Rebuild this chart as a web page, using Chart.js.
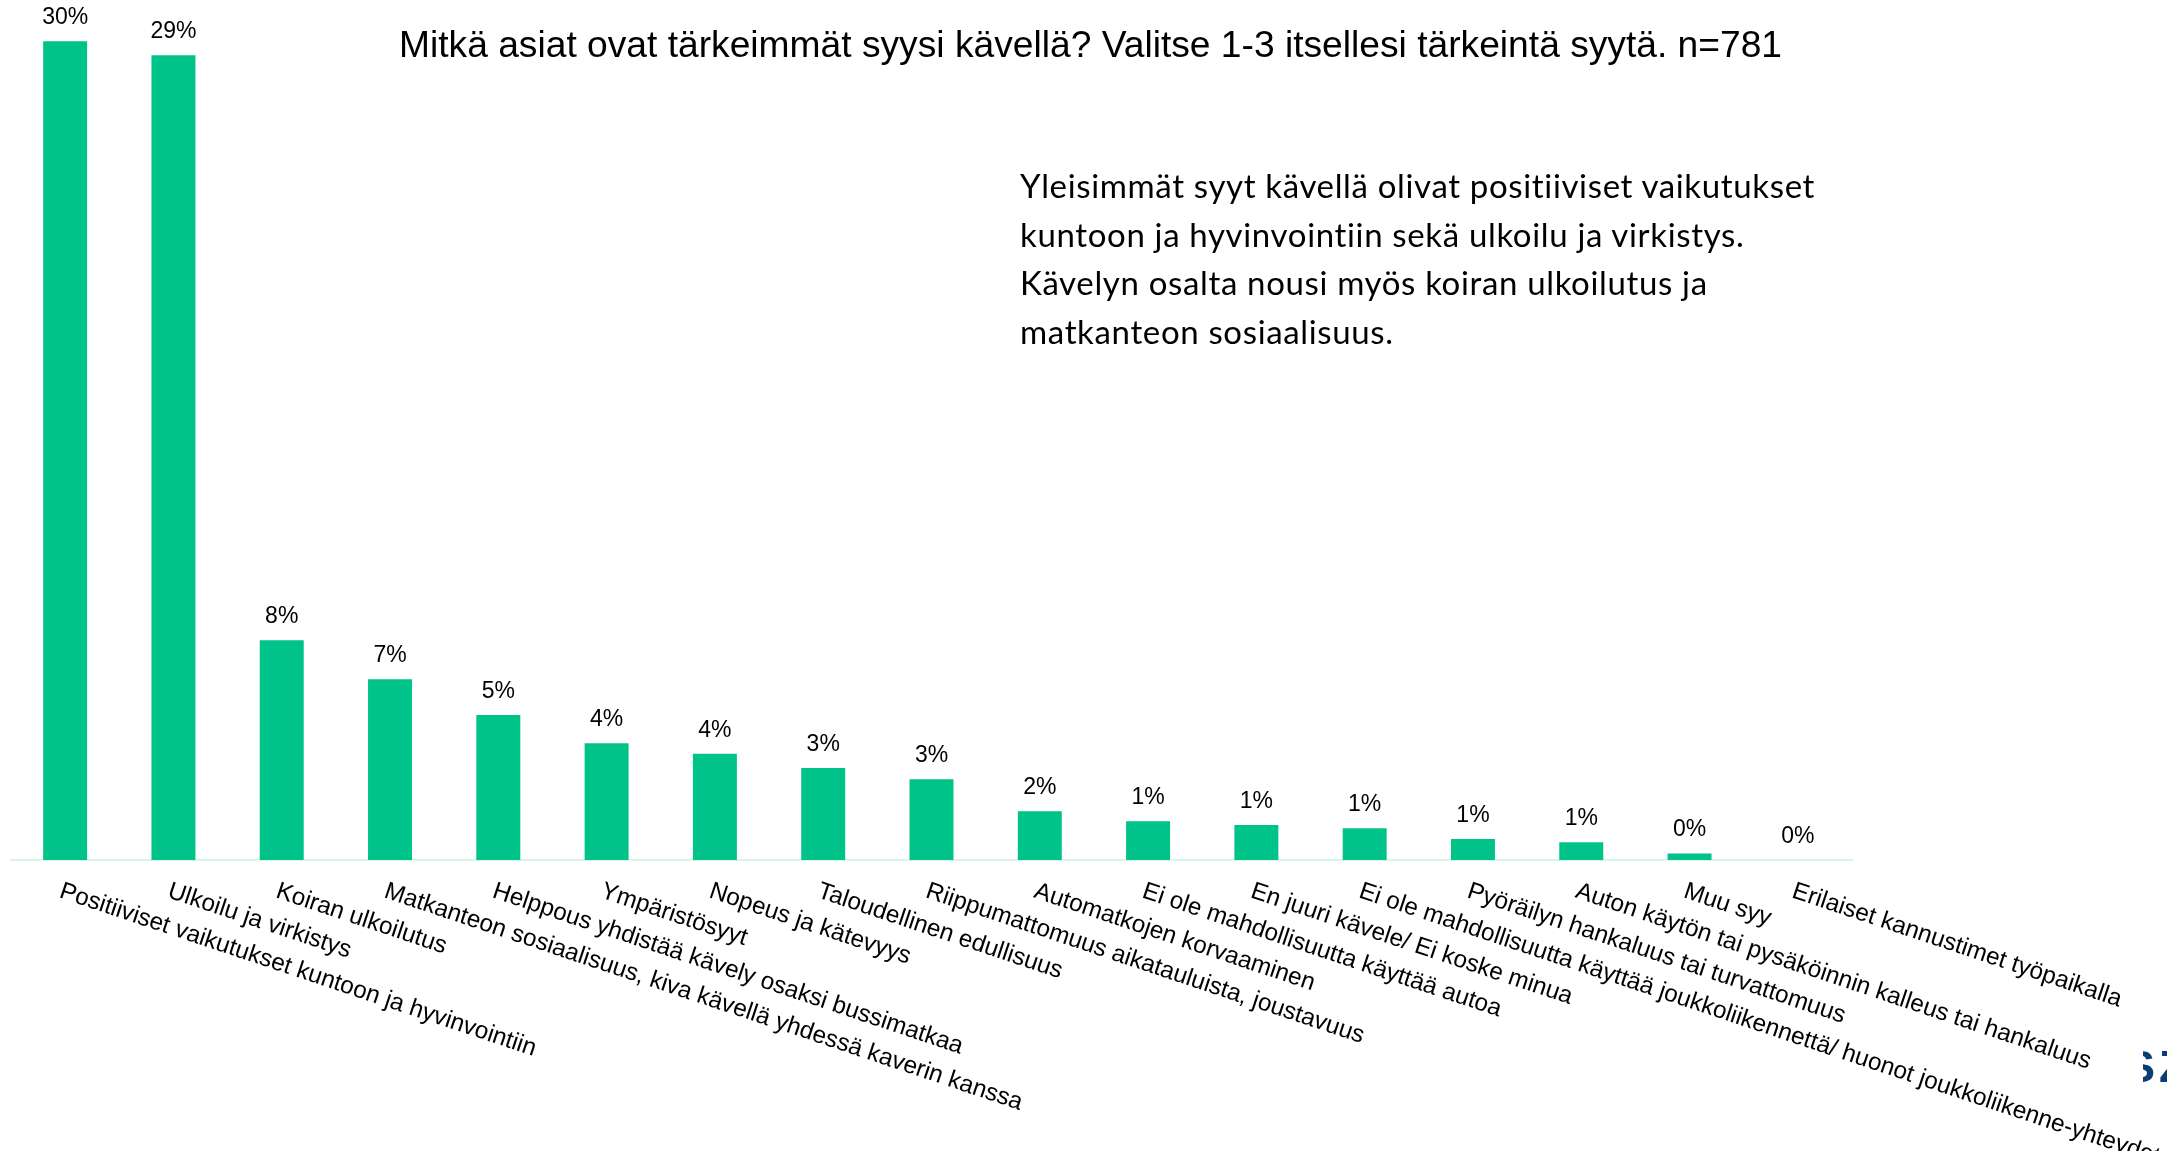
<!DOCTYPE html>
<html>
<head>
<meta charset="utf-8">
<script src="https://cdn.jsdelivr.net/npm/chart.js@4.4.1/dist/chart.umd.min.js"></script>
<style>
    body { margin: 0; background: #fff; }
    #wrap { position: relative; width: 2167px; height: 1151px; overflow: hidden; }
    #title {
        position: absolute; left: 399px; top: 26px; white-space: nowrap;
        font-family: "Liberation Sans", Arial, sans-serif; font-size: 37.2px; line-height: 37px; color: #000;
    }
    #note {
        position: absolute; left: 1020px; top: 161px; white-space: nowrap; letter-spacing: 0.65px;
        font-family: Lato, sans-serif; font-size: 33px; line-height: 48.7px; color: #000;
    }
    #logo { position: absolute; left: 2143px; top: 1040px; width: 24px; height: 50px; overflow: hidden; }
    #logo span {
        position: absolute; left: -18px; top: 4px; white-space: nowrap; letter-spacing: 4px;
        font-family: "Liberation Sans", Arial, sans-serif; font-weight: bold; font-size: 45px; line-height: 45px; color: #0b3d73;
    }
</style>
</head>
<body>
<div id="wrap">
    <canvas id="myChart" width="2167" height="1151"></canvas>
    <div id="title">Mitkä asiat ovat tärkeimmät syysi kävellä? Valitse 1-3 itsellesi tärkeintä syytä. n=781</div>
    <div id="note">Yleisimmät syyt kävellä olivat positiiviset vaikutukset<br>kuntoon ja hyvinvointiin sekä ulkoilu ja virkistys.<br>Kävelyn osalta nousi myös koiran ulkoilutus ja<br>matkanteon sosiaalisuus.</div>
    <div id="logo"><span>SZ</span></div>
</div>
<script>
    "use strict";

    const categories = [
        'Positiiviset vaikutukset kuntoon ja hyvinvointiin',
        'Ulkoilu ja virkistys',
        'Koiran ulkoilutus',
        'Matkanteon sosiaalisuus, kiva kävellä yhdessä kaverin kanssa',
        'Helppous yhdistää kävely osaksi bussimatkaa',
        'Ympäristösyyt',
        'Nopeus ja kätevyys',
        'Taloudellinen edullisuus',
        'Riippumattomuus aikatauluista, joustavuus',
        'Automatkojen korvaaminen',
        'Ei ole mahdollisuutta käyttää autoa',
        'En juuri kävele/ Ei koske minua',
        'Ei ole mahdollisuutta käyttää joukkoliikennettä/ huonot joukkoliikenne-yhteydet',
        'Pyöräilyn hankaluus tai turvattomuus',
        'Auton käytön tai pysäköinnin kalleus tai hankaluus',
        'Muu syy',
        'Erilaiset kannustimet työpaikalla'
    ];

    // share of respondents, %
    const shares = [30.0, 29.49, 8.05, 6.62, 5.31, 4.28, 3.89, 3.37, 2.96, 1.79, 1.42, 1.28, 1.16, 0.77, 0.65, 0.24, 0];

    const labelPlugin = {
        id: 'labelPlugin',
        afterDatasetsDraw(chart) {
            const ctx = chart.ctx;
            const meta = chart.getDatasetMeta(0);
            const xScale = chart.scales.x;
            const bottom = chart.chartArea.bottom;

            ctx.save();
            ctx.fillStyle = '#000';

            // value labels above bars
            ctx.font = '23px "Liberation Sans", Arial, sans-serif';
            ctx.textAlign = 'center';
            ctx.textBaseline = 'alphabetic';
            meta.data.forEach((bar, i) => {
                ctx.fillText(Math.round(shares[i]) + '%', bar.x, bar.y - 17);
            });

            // slanted category labels
            ctx.font = '24.3px "Liberation Sans", Arial, sans-serif';
            ctx.textAlign = 'left';
            categories.forEach((c, i) => {
                const x = xScale.getPixelForValue(i);
                ctx.save();
                ctx.translate(x - 7, bottom + 37);
                ctx.rotate(18.5 * Math.PI / 180);
                ctx.fillText(c, 0, 0);
                ctx.restore();
            });
            ctx.restore();
        }
    };

    let ctx = document.getElementById('myChart').getContext('2d');
    let chart = new Chart(ctx, {
        type: 'bar',
        data: {
            labels: categories,
            datasets: [
                {
                    data: shares,
                    backgroundColor: '#00C389',
                    borderWidth: 0,
                    barPercentage: 0.406,
                    categoryPercentage: 1
                }
            ]
        },
        options: {
            responsive: false,
            devicePixelRatio: 1,
            animation: false,
            layout: {
                padding: { left: 11, right: 315, top: 14, bottom: 283 }
            },
            plugins: {
                legend: { display: false },
                tooltip: { enabled: false }
            },
            scales: {
                x: {
                    grid: { display: false },
                    ticks: { display: false },
                    border: { display: true, color: '#d4f7ea', width: 2 }
                },
                y: {
                    display: false,
                    min: 0,
                    max: 31
                }
            }
        },
        plugins: [labelPlugin]
    });
</script>
</body>
</html>
